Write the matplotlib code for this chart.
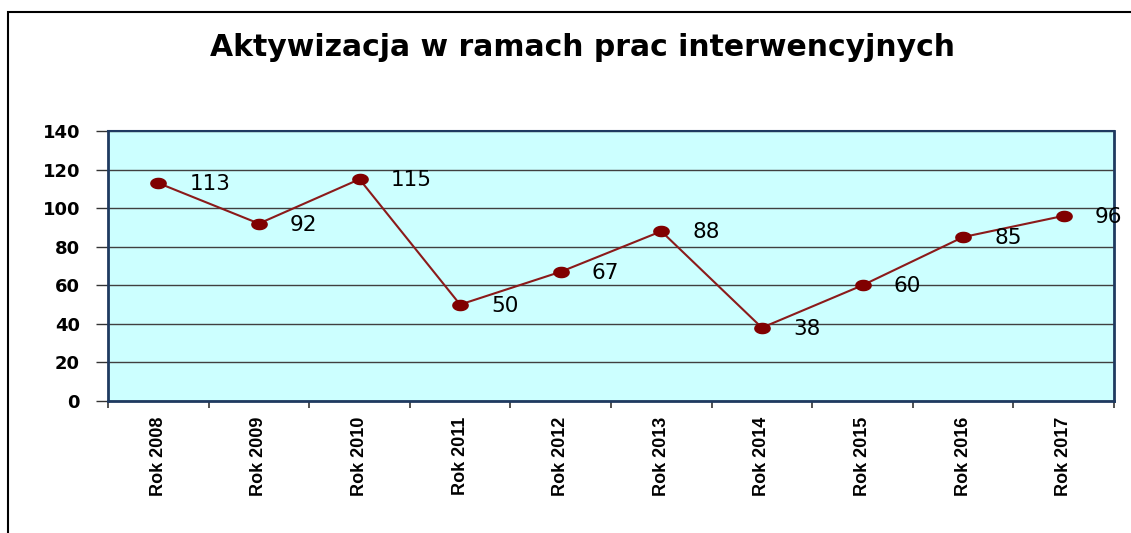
import numpy as np
import matplotlib
matplotlib.use("Agg")
import matplotlib.pyplot as plt
from matplotlib.path import Path
from matplotlib.patches import Rectangle

categories = ["Rok 2008", "Rok 2009", "Rok 2010", "Rok 2011", "Rok 2012",
              "Rok 2013", "Rok 2014", "Rok 2015", "Rok 2016", "Rok 2017"]
values = [113, 92, 115, 50, 67, 88, 38, 60, 85, 96]
yticks = [0, 20, 40, 60, 80, 100, 120, 140]
title = "Aktywizacja w ramach prac interwencyjnych"

W, H = 1131, 533
dpi = 100
fig = plt.figure(figsize=(W / dpi, H / dpi), dpi=dpi)
fig.patch.set_facecolor("white")

# outer border (left and top visible)
fig.add_artist(Rectangle((8 / W, -0.05), 1.2, 1 - 12 / H + 0.05,
                         transform=fig.transFigure, fill=False,
                         edgecolor="black", linewidth=1.5))

ax = fig.add_axes([108 / W, 1 - 401 / H, (1114 - 108) / W, (401 - 131) / H])
ax.set_facecolor("#CCFFFF")

x = np.arange(len(categories))
t = np.linspace(0, 2 * np.pi, 40)
ell = Path(np.column_stack([1.5 * np.cos(t), np.sin(t)]), closed=True)
ax.plot(x, values, color="#8B1A1A", linewidth=1.5, marker=ell,
        markersize=11, markerfacecolor="#800000", markeredgecolor="#800000",
        zorder=3)

for xi, v in zip(x, values):
    ax.annotate(str(v), (xi, v), xytext=(31, -1), textcoords="offset pixels",
                ha="left", va="center", fontsize=15.5, family="DejaVu Sans",
                color="black", zorder=4)

ax.set_xlim(-0.5, len(categories) - 0.5)
ax.set_ylim(0, 140)
ax.set_yticks(yticks)
ax.set_yticklabels([str(v) for v in yticks], fontsize=13, fontweight="bold",
                   family="DejaVu Sans")
ax.yaxis.grid(True, color="#404040", linewidth=1.0)
ax.set_axisbelow(True)

ax.set_xticks(np.arange(len(categories) + 1) - 0.5, minor=False)
ax.set_xticklabels([])
ax.set_xticks(x, minor=True)
ax.set_xticklabels(categories, minor=True, rotation=90, fontsize=13,
                   fontweight="bold", family="Liberation Sans")
ax.tick_params(axis="x", which="minor", length=0, pad=11)
ax.tick_params(axis="x", which="major", length=5, width=1.2, color="#333333", direction="out")
ax.tick_params(axis="y", length=8.6, width=1.0, color="#333333", pad=11.5)

for s in ["left", "bottom", "right", "top"]:
    ax.spines[s].set_color("#1F3A60")
    ax.spines[s].set_linewidth(2.0)
ax.spines["top"].set_linewidth(1.5)

fig.text(583 / W, 1 - 48 / H, title, ha="center", va="center",
         fontsize=21.5, fontweight="bold", family="DejaVu Sans")

fig.savefig("out.png", dpi=dpi)
